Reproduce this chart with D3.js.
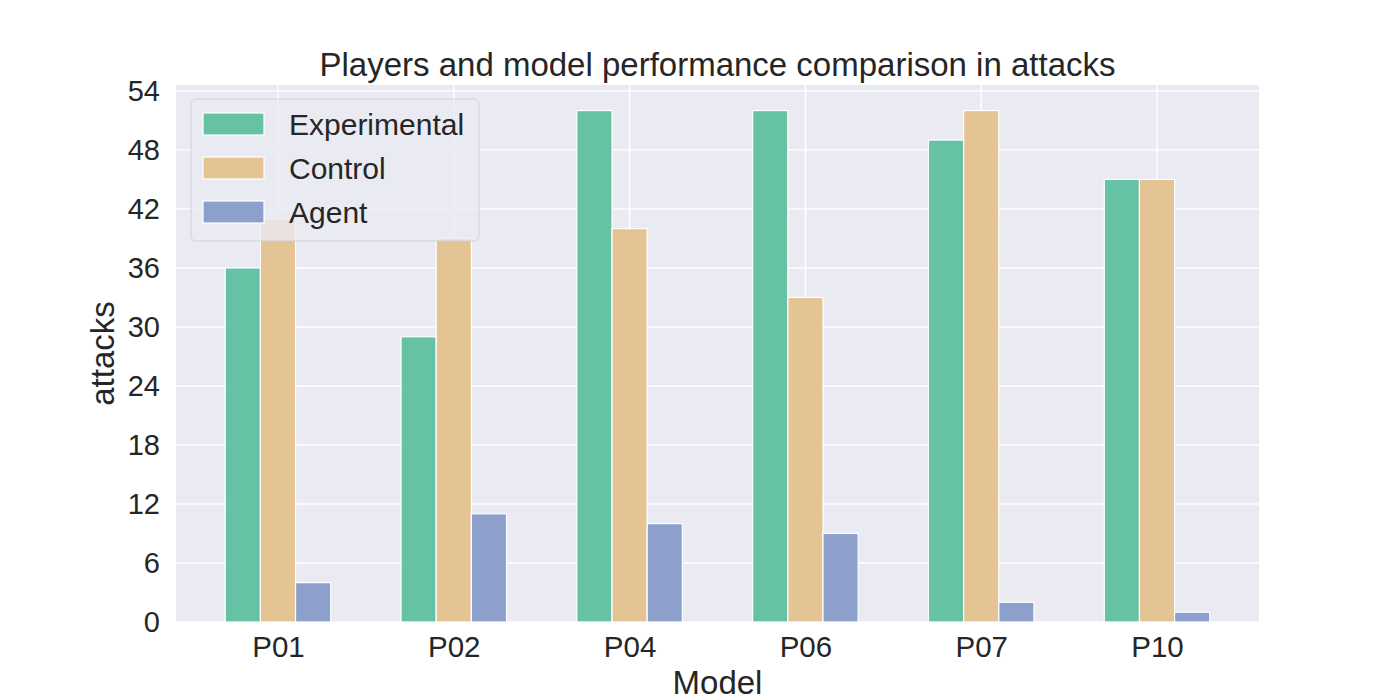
<!DOCTYPE html>
<html>
<head>
<meta charset="utf-8">
<script src="https://cdn.jsdelivr.net/npm/d3@7"></script>
<style>
  body { margin: 0; background: #fff; }
  svg { display: block; font-family: "Liberation Sans", Arial, sans-serif; }
</style>
</head>
<body>
<svg id="chart" width="1400" height="700"></svg>
<script>
const categories = ["P01", "P02", "P04", "P06", "P07", "P10"];
const seriesNames = ["Experimental", "Control", "Agent"];
const experimental = [36, 29, 52, 52, 49, 45];
const control = [41, 39, 40, 33, 52, 45];
const agent = [4, 11, 10, 9, 2, 1];
const yTicks = [0, 6, 12, 18, 24, 30, 36, 42, 48, 54];
const colors = ["#66c2a5", "#e5c494", "#8da0cb"];
const seriesValues = [experimental, control, agent];

const svg = d3.select("#chart");
const pLeft = 176, pRight = 1259, pTop = 85, pBottom = 622;

const x = d3.scaleLinear().domain([-0.58, categories.length - 1 + 0.58]).range([pLeft, pRight]);
const y = d3.scaleLinear().domain([0, 54.6]).range([pBottom, pTop]);

// background
svg.append("rect").attr("x", pLeft).attr("y", pTop).attr("width", pRight - pLeft).attr("height", pBottom - pTop).attr("fill", "#eaeaf2");

// grid
svg.append("g").selectAll("line").data(yTicks).join("line")
  .attr("x1", pLeft).attr("x2", pRight).attr("y1", d => y(d)).attr("y2", d => y(d))
  .attr("stroke", "#fff").attr("stroke-width", 1.4);
svg.append("g").selectAll("line").data(categories).join("line")
  .attr("x1", (d, i) => x(i)).attr("x2", (d, i) => x(i)).attr("y1", pTop).attr("y2", pBottom)
  .attr("stroke", "#fff").attr("stroke-width", 1.4);

// bars
const barW = 0.2;
const offsets = [-0.2, 0, 0.2];
seriesValues.forEach((vals, s) => {
  svg.append("g").selectAll("rect").data(vals).join("rect")
    .attr("x", (d, i) => x(i + offsets[s] - barW / 2))
    .attr("width", (d, i) => x(i + offsets[s] + barW / 2) - x(i + offsets[s] - barW / 2))
    .attr("y", d => y(d))
    .attr("height", d => y(0) - y(d))
    .attr("fill", colors[s])
    .attr("stroke", "#fff").attr("stroke-width", 1.2);
});

// y tick labels
const yAxis = d3.axisLeft(y).tickValues(yTicks).tickSize(0).tickPadding(16);
const gy = svg.append("g").attr("transform", `translate(${pLeft},0)`).call(yAxis);
gy.select(".domain").remove();
gy.selectAll("text").attr("font-size", 29).attr("fill", "#262626").attr("font-family", "Liberation Sans, Arial, sans-serif");

// x tick labels
const xAxis = d3.axisBottom(x).tickValues(d3.range(categories.length)).tickFormat(i => categories[i]).tickSize(0).tickPadding(14);
const gx = svg.append("g").attr("transform", `translate(0,${pBottom})`).call(xAxis);
gx.select(".domain").remove();
gx.selectAll("text").attr("font-size", 29.5).attr("fill", "#262626").attr("font-family", "Liberation Sans, Arial, sans-serif");

// title & labels
svg.append("text").attr("x", (pLeft + pRight) / 2).attr("y", 76).attr("text-anchor", "middle")
  .attr("font-size", 33).attr("fill", "#262626").text("Players and model performance comparison in attacks");
svg.append("text").attr("x", (pLeft + pRight) / 2).attr("y", 694).attr("text-anchor", "middle")
  .attr("font-size", 33).attr("fill", "#262626").text("Model");
svg.append("text").attr("transform", `translate(114,${(pTop + pBottom) / 2}) rotate(-90)`).attr("text-anchor", "middle")
  .attr("font-size", 33).attr("fill", "#262626").text("attacks");

// legend
const lg = svg.append("g");
lg.append("rect").attr("x", 191).attr("y", 99).attr("width", 288).attr("height", 142).attr("rx", 5)
  .attr("fill", "#eaeaf2").attr("fill-opacity", 0.8).attr("stroke", "#cccccc").attr("stroke-opacity", 0.8);
seriesNames.forEach((name, i) => {
  const cy = 124 + i * 44;
  lg.append("rect").attr("x", 203).attr("y", cy - 11).attr("width", 61).attr("height", 22)
    .attr("fill", colors[i]).attr("stroke", "#fff").attr("stroke-width", 1.2);
  lg.append("text").attr("x", 289).attr("y", cy + 11).attr("font-size", 30).attr("fill", "#262626").text(name);
});
</script>
</body>
</html>
